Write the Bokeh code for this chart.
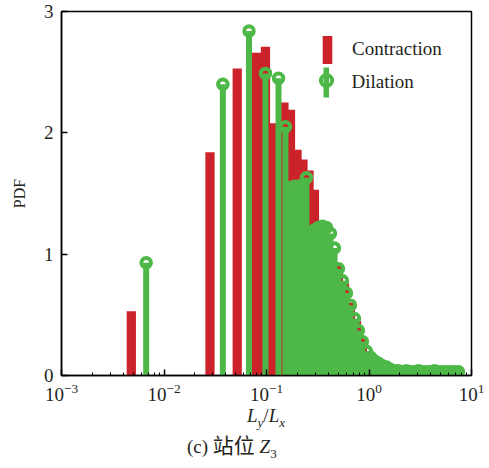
import numpy as np
from bokeh.plotting import figure
from bokeh.layouts import column
from bokeh.models import ColumnDataSource, FixedTicker, Legend, LegendItem, Range1d, Div
from bokeh.embed import file_html
from bokeh.resources import INLINE

# ---- data ----
red_x = [0.0048, 0.0281, 0.0518, 0.0798, 0.0977, 0.1156, 0.148, 0.1715, 0.1985, 0.227,
         0.260, 0.2937, 0.3365, 0.3845, 0.4406, 0.5033, 0.5768, 0.659, 0.755, 0.862,
         0.989, 1.157, 1.355]
red_pdf = [0.53, 1.84, 2.53, 2.66, 2.71, 2.08, 2.25, 2.19, 1.86, 1.78,
           1.69, 1.53, 1.26, 1.15, 1.05, 0.92, 0.76, 0.60, 0.45, 0.31,
           0.19, 0.11, 0.07]

green_x = [0.0067, 0.0375, 0.0675, 0.0977, 0.131, 0.153, 0.1714, 0.1875, 0.2051, 0.2244,
           0.2455, 0.2685, 0.2937, 0.3213, 0.3515, 0.3845, 0.4206, 0.4601, 0.5033, 0.5506,
           0.6023, 0.659, 0.721, 0.788, 0.862, 0.943, 1.035, 1.132, 1.238, 1.355,
           1.482, 1.621, 1.774, 1.941, 2.123, 2.323, 2.541, 2.780, 3.041, 3.327,
           3.640, 3.982, 4.356, 4.766, 5.214, 5.704, 6.240, 6.827, 7.46]
green_pdf = [0.93, 2.40, 2.84, 2.49, 2.45, 2.05, 1.55, 1.56, 1.56, 1.57,
             1.63, 1.18, 1.20, 1.22, 1.23, 1.22, 1.17, 1.05, 0.88, 0.78,
             0.68, 0.58, 0.47, 0.37, 0.28, 0.20, 0.15, 0.12, 0.10, 0.08,
             0.07, 0.05, 0.04, 0.04, 0.03, 0.04, 0.03, 0.03, 0.04, 0.03,
             0.03, 0.03, 0.04, 0.03, 0.03, 0.03, 0.03, 0.03, 0.03]

y_ticks = [0, 1, 2, 3]
series_names = ["Contraction", "Dilation"]

# ---- style ----
RED = "#CC2229"
GREEN = "#4DB848"
BAR_FACTOR = 10 ** 0.045  # half bar width in log space
SERIF = "Liberation Serif"

rx = np.array(red_x)
red_src = ColumnDataSource(dict(left=rx / BAR_FACTOR, right=rx * BAR_FACTOR,
                                top=red_pdf, bottom=np.zeros(len(rx))))
green_src = ColumnDataSource(dict(x=green_x, y=green_pdf, y0=np.zeros(len(green_x))))

p = figure(width=489, height=405, x_axis_type="log",
           x_range=Range1d(1e-3, 1e1), y_range=Range1d(0, 3),
           output_backend="svg", toolbar_location=None,
           min_border_left=61, min_border_right=18, min_border_top=11, min_border_bottom=30)

bars = p.quad(left="left", right="right", top="top", bottom="bottom", source=red_src,
              fill_color=RED, line_color=None)
stems = p.segment(x0="x", y0="y0", x1="x", y1="y", source=green_src,
                  line_color=GREEN, line_width=6)
circ = p.scatter(x="x", y="y", source=green_src, marker="circle", size=9.5,
                 fill_color=None, line_color=GREEN, line_width=4)
# legend-only key for the stem (not drawn in the plot area)
stem_leg = p.segment(x0="x", y0="y0", x1="x", y1="y", source=green_src,
                     line_color=GREEN, line_width=30, visible=False)

# ---- axes ----
for ax in (p.xaxis[0], p.yaxis[0]):
    ax.axis_line_color = "black"
    ax.axis_line_width = 1.5
    ax.major_tick_in = 6
    ax.major_tick_out = 0
    ax.minor_tick_in = 3
    ax.minor_tick_out = 0
    ax.major_tick_line_color = "black"
    ax.minor_tick_line_color = "black"
    ax.major_tick_line_width = 1.5
    ax.major_label_text_font = SERIF
    ax.major_label_text_font_size = "19px"
    ax.major_label_text_color = "#231F20"
    ax.major_label_standoff = 8

p.yaxis.ticker = FixedTicker(ticks=y_ticks)
p.yaxis.minor_tick_line_color = None
p.yaxis.axis_label = "PDF"
p.yaxis.axis_label_text_font = SERIF
p.yaxis.axis_label_text_font_style = "normal"
p.yaxis.axis_label_text_font_size = "16px"
p.yaxis.axis_label_text_color = "#231F20"
p.yaxis.axis_label_standoff = 13

p.xgrid.visible = False
p.ygrid.visible = False
p.outline_line_color = "black"
p.outline_line_width = 1.5
p.outline_line_alpha = 1.0
p.background_fill_color = "white"
p.border_fill_color = "white"

# ---- legend (overlapping legends to build the bar / stem+circle keys) ----
common = dict(padding=0, margin=0, spacing=0, border_line_color=None,
              background_fill_alpha=0, label_text_font=SERIF,
              label_text_font_size="19px", label_text_color="#231F20", label_height=20)
leg_r = Legend(items=[LegendItem(label=series_names[0], renderers=[bars])],
               location=(260, 308.5), glyph_width=12, glyph_height=35, label_standoff=19, **common)
leg_s = Legend(items=[LegendItem(label=series_names[1], renderers=[stem_leg])],
               location=(261.5, 276), glyph_width=6, glyph_height=34, label_standoff=23, **common)
leg_c = Legend(items=[LegendItem(label="", renderers=[circ])],
               location=(250.5, 281), glyph_width=28, glyph_height=28, label_standoff=0, **common)
for lg in (leg_r, leg_s, leg_c):
    p.add_layout(lg)

# ---- x-axis label and caption ----
html = (
    '<div style="position:relative;width:489px;height:63px;font-family:\'Liberation Serif\';'
    'font-size:19px;color:#231F20;line-height:22px;">'
    '<span style="position:absolute;left:247px;top:0px;white-space:nowrap;">'
    '<i>L</i><sub style="font-size:13px;"><i>y</i></sub>/<i>L</i>'
    '<sub style="font-size:13px;"><i>x</i></sub></span>'
    '<span style="position:absolute;left:187px;top:28px;white-space:nowrap;">(c) '
    '<span style="font-family:\'Noto Sans CJK SC\';font-size:21px;">站位</span> '
    '<i>Z</i><sub style="font-size:13px;">3</sub></span>'
    '</div>'
)
caption = Div(text=html, width=489, height=63, margin=0)

layout = column(p, caption, spacing=0)
open("out.html", "w").write(file_html(layout, INLINE))
